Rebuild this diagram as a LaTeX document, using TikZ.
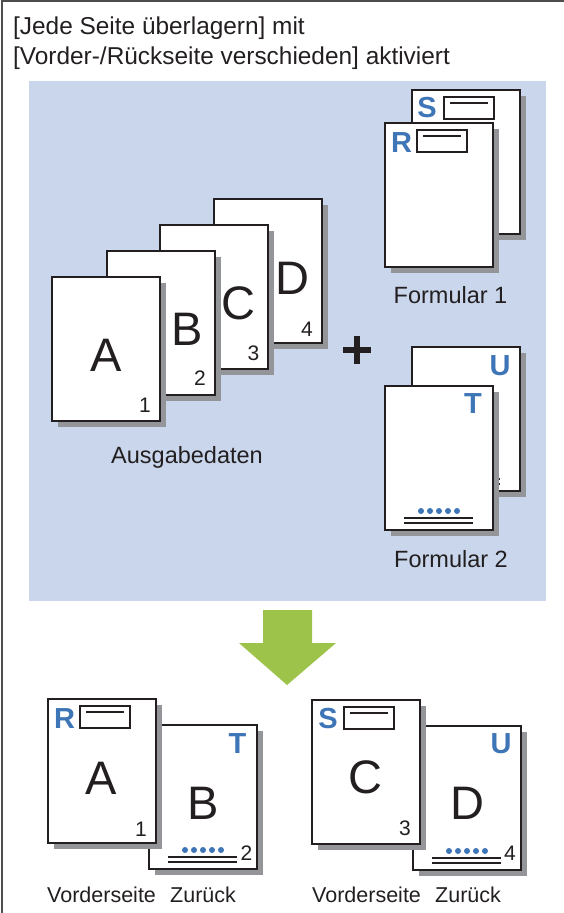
\documentclass[tikz,border=0pt]{standalone}
\usepackage{fontspec}
\setmainfont{Liberation Sans}
\usetikzlibrary{calc}

\definecolor{bgblue}{RGB}{201,214,236}
\definecolor{formblue}{RGB}{62,117,182}
\definecolor{shadowgray}{RGB}{148,149,152}
\definecolor{arrowgreen}{RGB}{157,195,75}
\definecolor{inkblack}{RGB}{35,31,32}

\tikzset{
  sheet/.style={draw=inkblack, fill=white, line width=1.6pt},
  sheetshadow/.style={fill=shadowgray},
  big letter/.style={font=\fontsize{47}{47}\selectfont, text=inkblack, inner sep=0pt},
  page number/.style={font=\fontsize{21}{21}\selectfont, text=inkblack, inner sep=0pt},
  form letter/.style={font=\fontsize{29}{29}\selectfont\bfseries, text=formblue, inner sep=0pt},
  title/.style={font=\fontsize{24.4}{30}\selectfont, text=inkblack, inner sep=0pt, anchor=base west},
  caption/.style={font=\fontsize{23.5}{23.5}\selectfont, text=inkblack, inner sep=0pt, anchor=base},
  side label/.style={font=\fontsize{21.5}{21.5}\selectfont, text=inkblack, inner sep=0pt, anchor=base west},
}

% one sheet with its shadow, #1,#2 = top left corner
\newcommand{\sheet}[2]{%
  \fill[sheetshadow] (#1+6,#2+6) rectangle ++(108,144);
  \draw[sheet] (#1,#2) rectangle ++(108,144);
}
% header box of a form, #1,#2 = top left corner of the sheet
\newcommand{\formbox}[2]{%
  \draw[inkblack, line width=1.6pt] (#1+32,#2+7) rectangle (#1+82,#2+29);
  \draw[inkblack, line width=1.6pt] (#1+38,#2+13) -- (#1+76,#2+13);
}
% footer dots and lines of a form, #1,#2 = top left corner of the sheet
\newcommand{\formfoot}[2]{%
  \foreach \dx in {-18,-9,0,9,18}
    \fill[formblue] (#1+54+\dx,#2+125) circle (3);
  \draw[inkblack, line width=1.3pt] (#1+19,#2+132) -- (#1+88,#2+132);
  \draw[inkblack, line width=1.3pt] (#1+19,#2+137) -- (#1+88,#2+137);
}

\begin{document}
\begin{tikzpicture}[x=1pt, y=-1pt]
    \useasboundingbox (0,0) rectangle (564,913);

    % Frame
    \draw[inkblack!80, line width=1.2pt] (564,1) -- (2,1) -- (2,913);

    % Title
    \node[title] (title1) at (13,34) {[Jede Seite überlagern] mit};
    \node[title] (title2) at (13,64) {[Vorder-/Rückseite verschieden] aktiviert};

    % Background
    \fill[bgblue] (29,81) rectangle (546,601);

    % Output data stack
    \sheet{214}{199}
    \sheet{160}{225}
    \sheet{107}{251}
    \sheet{52}{277}
    \node[big letter] (letD) at (292,278) {D};
    \node[big letter] (letC) at (238,303) {C};
    \node[big letter] (letB) at (187,329) {B};
    \node[big letter] (letA) at (106,355) {A};
    \node[page number] (num4) at (307,329.5) {4};
    \node[page number] (num3) at (253.5,353.5) {3};
    \node[page number] (num2) at (200,378) {2};
    \node[page number] (num1) at (145,405) {1};
    \node[caption] (data) at (187,463) {Ausgabedaten};

    % Plus
    \draw[inkblack, line width=6.5pt] (343,350) -- (371,350);
    \draw[inkblack, line width=6.5pt] (357,336) -- (357,364);

    % Form 1
    \sheet{412}{90}
    \formbox{412}{90}
    \node[form letter] (formS) at (427,107.5) {S};
    \sheet{385}{123}
    \formbox{385}{123}
    \node[form letter] (formR) at (401.5,142.5) {R};
    \node[caption] (form1) at (450.5,303) {Formular 1};

    % Form 2
    \sheet{412}{347}
    \formfoot{412}{347}
    \node[form letter] (formU) at (500,366) {U};
    \sheet{385}{386}
    \formfoot{385}{386}
    \node[form letter] (formT) at (473,403.5) {T};
    \node[caption] (form2) at (451,567) {Formular 2};

    % Arrow
    \fill[arrowgreen] (263,610) -- (312,610) -- (312,643) -- (336,643)
        -- (287,685) -- (239,643) -- (263,643) -- cycle;

    % Result, first sheet
    \sheet{149}{725}
    \formfoot{149}{725}
    \node[form letter] (resT) at (237.5,744) {T};
    \node[big letter] (resB) at (203,803) {B};
    \node[page number] (res2) at (246.5,853.5) {2};
    \sheet{48}{699}
    \formbox{48}{699}
    \node[form letter] (resR) at (64.5,718.5) {R};
    \node[big letter] (resA) at (101.5,778) {A};
    \node[page number] (res1) at (141,829.5) {1};
    \node[side label] (front1) at (47,902) {Vorderseite};
    \node[side label] (back1) at (170,902) {Zurück};

    % Result, second sheet
    \sheet{413}{726}
    \formfoot{413}{726}
    \node[form letter] (resU) at (501,744) {U};
    \node[big letter] (resD) at (467,803) {D};
    \node[page number] (res4) at (510,853.5) {4};
    \sheet{312}{700}
    \formbox{312}{700}
    \node[form letter] (resS) at (328,718.5) {S};
    \node[big letter] (resC) at (365.5,777.5) {C};
    \node[page number] (res3) at (405,828.5) {3};
    \node[side label] (front2) at (312,902) {Vorderseite};
    \node[side label] (back2) at (435,902) {Zurück};
\end{tikzpicture}
\end{document}
